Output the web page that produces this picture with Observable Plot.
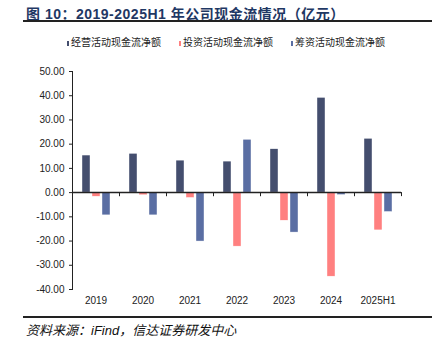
<!DOCTYPE html>
<html><head><meta charset="utf-8">
<script src="https://cdn.jsdelivr.net/npm/d3@7"></script>
<script src="https://cdn.jsdelivr.net/npm/@observablehq/plot@0.6"></script>
<style>
body{margin:0;background:#fff;font-family:"Liberation Sans",Arial,"Noto Sans CJK SC",sans-serif;}
#wrap{position:relative;width:432px;height:349px;overflow:hidden;background:#fff;}
#title{position:absolute;left:26px;top:3px;font-size:14px;font-weight:bold;color:#1f3864;white-space:nowrap;letter-spacing:0.5px;}
#tline{position:absolute;left:23px;top:20px;width:409px;height:2px;background:#222;}
#legend{position:absolute;left:67px;top:37px;display:flex;gap:18px;font-size:10px;color:#222;white-space:nowrap;line-height:12px;}
#legend .it{display:flex;align-items:center;width:94px;}
#legend .sw{width:5px;height:5px;margin-right:2px;}
#chart{position:absolute;left:0;top:55px;}
#bline{position:absolute;left:23px;top:316px;width:409px;height:2px;background:#222;}
#source{position:absolute;left:26px;top:320px;font-size:13px;font-style:italic;color:#111;white-space:nowrap;}
</style></head>
<body>
<div id="wrap">
  <div id="title">图 10：2019-2025H1 年公司现金流情况（亿元）</div>
  <div id="tline"></div>
  <div id="legend"></div>
  <div id="chart"></div>
  <div id="bline"></div>
  <div id="source">资料来源：iFind，信达证券研发中心</div>
</div>
<script>
const years = ["2019","2020","2021","2022","2023","2024","2025H1"];
const series = ["经营活动现金流净额","投资活动现金流净额","筹资活动现金流净额"];
const operating = [15.3, 16.0, 13.2, 12.8, 17.9, 39.1, 22.2];
const investing = [-1.7, -1.1, -2.2, -22.3, -11.6, -34.7, -15.6];
const financing = [-9.4, -9.4, -20.2, 21.8, -16.5, -1.0, -8.0];
const yTicks = [-40, -30, -20, -10, 0, 10, 20, 30, 40, 50];
const colors = ["#444e6e", "#ff8080", "#5a6ea3"];

const rows = years.flatMap((y, i) => [
  {year: y, series: series[0], value: operating[i]},
  {year: y, series: series[1], value: investing[i]},
  {year: y, series: series[2], value: financing[i]}
]);

// legend
const lg = document.getElementById("legend");
series.forEach((s, i) => {
  const it = document.createElement("div"); it.className = "it";
  const sw = document.createElement("div"); sw.className = "sw"; sw.style.background = colors[i];
  const tx = document.createElement("span"); tx.textContent = s;
  it.appendChild(sw); it.appendChild(tx); lg.appendChild(it);
});

const H = 255, mT = 16, mB = 21;
const yMin = yTicks[0], yMax = yTicks[yTicks.length - 1];
const innerH = H - mT - mB;
const zeroOff = innerH * (yMax - 0) / (yMax - yMin);
const tickLen = 3;

const chart = Plot.plot({
  width: 432, height: H, marginTop: mT, marginBottom: mB, marginLeft: 71, marginRight: 30,
  style: {fontFamily: "'Liberation Sans', Arial, sans-serif", fontSize: "10px", color: "#222", background: "transparent"},
  fx: {domain: years, padding: 0, label: null},
  x: {domain: series, paddingInner: 0.23, paddingOuter: 0.8, axis: null},
  y: {domain: [yMin, yMax], label: null},
  color: {domain: series, range: colors},
  marks: [
    Plot.barY(rows, {fx: "year", x: "series", y: "value", fill: "series", stroke: "#fff", strokeWidth: 0.4}),
    Plot.ruleY([0], {stroke: "#222", strokeWidth: 1.5}),
    Plot.frame({anchor: "left", stroke: "#222", insetTop: zeroOff, insetBottom: innerH - zeroOff - tickLen}),
    Plot.frame({anchor: "right", stroke: "#222", insetTop: zeroOff, insetBottom: innerH - zeroOff - tickLen}),
    Plot.frame({anchor: "left", facetAnchor: "left", stroke: "#222"}),
    Plot.axisY({ticks: yTicks, tickFormat: d => d.toFixed(2), tickSize: 3, tickPadding: 5, label: null}),
    Plot.axisFx({anchor: "bottom", tickSize: 0, tickPadding: 7, label: null})
  ]
});
document.getElementById("chart").appendChild(chart);
</script>
</body></html>
